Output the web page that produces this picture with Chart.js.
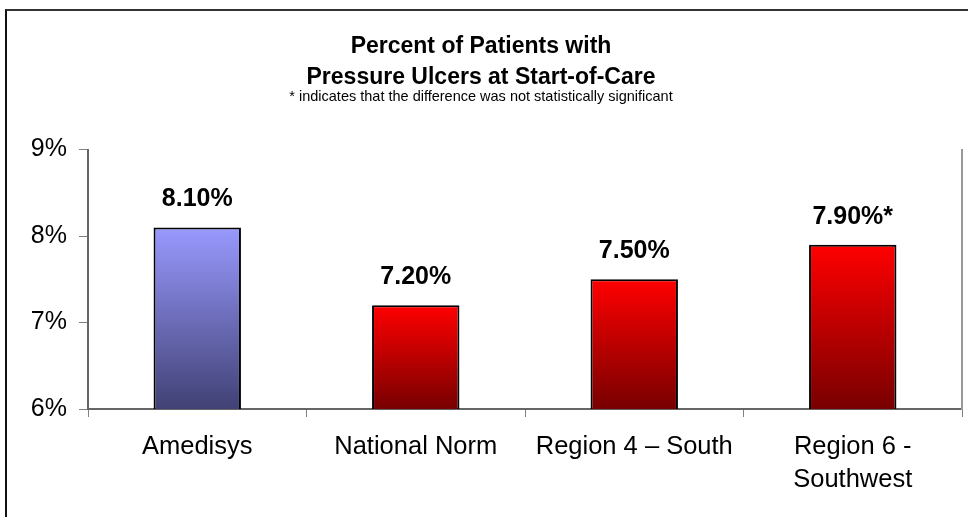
<!DOCTYPE html>
<html>
<head>
<meta charset="utf-8">
<script src="https://cdn.jsdelivr.net/npm/chart.js@4"></script>
<style>
	html, body { margin: 0; padding: 0; background: #fff; overflow: hidden; }
	#marco { position: absolute; left: 5px; top: 9px; width: 980px; height: 530px; border-top: 2px solid #333; border-left: 2px solid #111; }
	#cont { position: absolute; left: 0; top: 0; width: 968px; height: 517px; }
</style>
</head>
<body>
<div id="marco"></div>
<div id="cont"><canvas id="graficoUlceras"></canvas></div>
<script>
//Datos
const categorias = ["Amedisys", "National Norm", "Region 4 \u2013 South", ["Region 6 -", "Southwest"]];
const valores = [8.1, 7.2, 7.5, 7.9];
const etiquetas = ["8.10%", "7.20%", "7.50%", "7.90%*"];
const ticksY = [6, 7, 8, 9];

const fuente = "'Liberation Sans', Arial, sans-serif";

//Degradado por barra
function colorBarra(context) {
	const chart = context.chart;
	const area = chart.chartArea;
	if (!area || !chart.scales.y) return "#ff0000";
	const v = valores[context.dataIndex];
	const yTop = chart.scales.y.getPixelForValue(v);
	const yBot = chart.scales.y.getPixelForValue(ticksY[0]);
	const g = chart.ctx.createLinearGradient(0, yTop, 0, yBot);
	if (context.dataIndex === 0) {
		g.addColorStop(0, "#9999ff");
		g.addColorStop(1, "#414175");
	} else {
		g.addColorStop(0, "#ff0000");
		g.addColorStop(1, "#780000");
	}
	return g;
}

//Etiquetas sobre las barras
const etiquetasBarras = {
	id: "etiquetasBarras",
	afterDatasetsDraw(chart) {
		const ctx = chart.ctx;
		const meta = chart.getDatasetMeta(0);
		ctx.save();
		ctx.font = "bold 25px " + fuente;
		ctx.fillStyle = "#000";
		ctx.textAlign = "center";
		ctx.textBaseline = "middle";
		meta.data.forEach((bar, i) => {
			ctx.fillText(etiquetas[i], bar.x, bar.y - 28);
		});
		ctx.restore();
	}
};

new Chart(document.getElementById("graficoUlceras"), {
	type: "bar",
	data: {
		labels: categorias,
		datasets: [{
			data: valores,
			backgroundColor: colorBarra,
			borderColor: "#000",
			borderWidth: 2,
			borderSkipped: false,
			barPercentage: 0.4,
			categoryPercentage: 1
		}]
	},
	options: {
		responsive: true,
		maintainAspectRatio: false,
		animation: false,
		layout: { padding: { left: 0, right: 6, top: 0, bottom: 0 } },
		plugins: {
			legend: { display: false },
			tooltip: { enabled: false },
			title: {
				display: true,
				text: ["Percent of Patients with", "Pressure Ulcers at Start-of-Care"],
				color: "#000",
				font: { family: fuente, size: 23, weight: "bold", lineHeight: 1.35 },
				padding: { top: 31, bottom: -3 }
			},
			subtitle: {
				display: true,
				text: "* indicates that the difference was not statistically significant",
				color: "#000",
				font: { family: fuente, size: 14.5, lineHeight: 1 },
				padding: { top: 0, bottom: 45 }
			}
		},
		scales: {
			x: {
				offset: true,
				grid: { offset: true, drawOnChartArea: false, tickLength: 8, color: "#808080" },
				border: { color: "#666", width: 2 },
				ticks: { color: "#000", padding: 13, font: { family: fuente, size: 25.5, lineHeight: 1.3 } },
				afterFit(scale) { scale.height = 108; }
			},
			y: {
				min: 6,
				max: 9,
				grid: { drawOnChartArea: false, tickLength: 9, color: "#808080" },
				border: { color: "#666", width: 2 },
				ticks: {
					stepSize: 1,
					color: "#000",
					padding: 12,
					font: { family: fuente, size: 25 },
					callback: v => ticksY.includes(v) ? v + "%" : ""
				},
				afterFit(scale) { scale.width = 88; }
			},
			y2: {
				position: "right",
				min: 6,
				max: 9,
				ticks: { display: false },
				grid: { drawOnChartArea: false, drawTicks: false },
				border: { color: "#999", width: 2 },
				afterFit(scale) { scale.width = 0; }
			}
		}
	},
	plugins: [etiquetasBarras]
});
</script>
</body>
</html>
